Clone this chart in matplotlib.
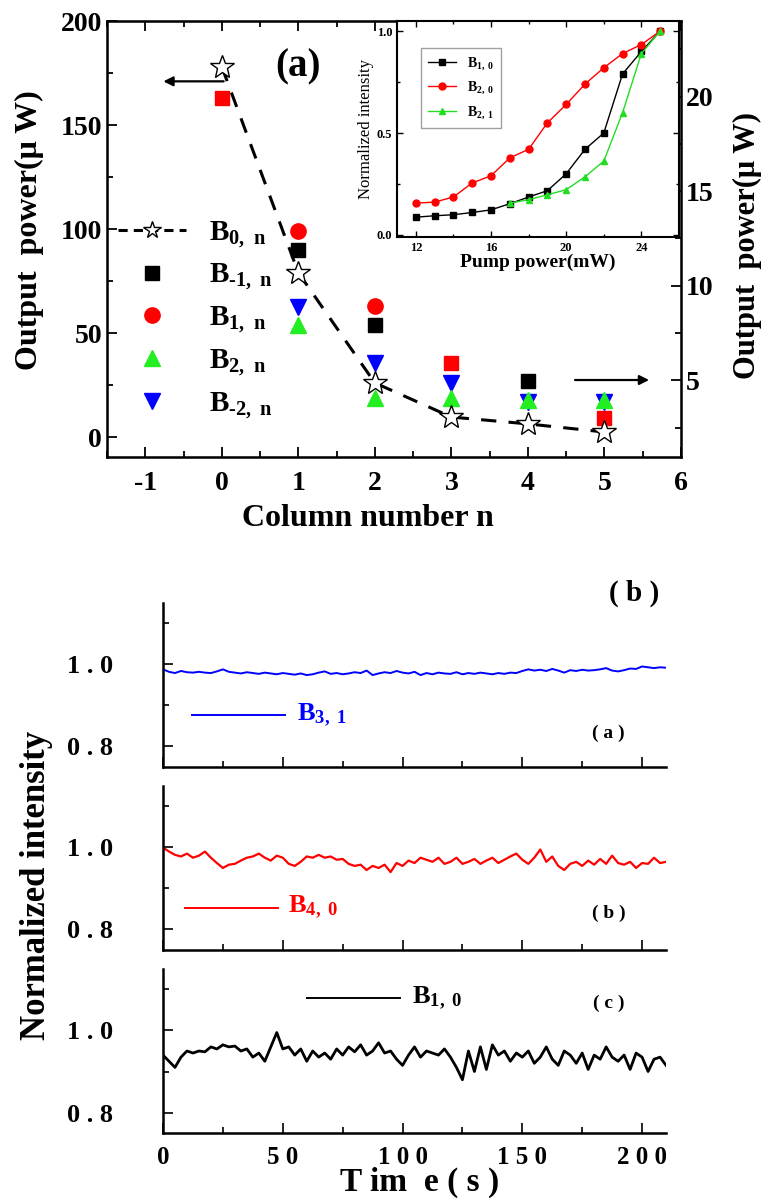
import numpy as np
import matplotlib
matplotlib.use("Agg")
import matplotlib.pyplot as plt
from matplotlib.lines import Line2D
from matplotlib.ticker import MultipleLocator, FixedLocator

plt.rcParams['font.family'] = ['Liberation Serif', 'DejaVu Serif']
plt.rcParams['font.weight'] = 'bold'
plt.rcParams['axes.unicode_minus'] = False
plt.rcParams['mathtext.fontset'] = 'custom'
plt.rcParams['mathtext.rm'] = 'Liberation Serif:bold'
plt.rcParams['mathtext.it'] = 'Liberation Serif:bold'
plt.rcParams['mathtext.bf'] = 'Liberation Serif:bold'

# --- top panel: output power vs column number ---
n_b0 = [0, 1, 2, 3, 4, 5]
p_b0 = [178, 79, 26, 9.6, 6.3, 2.4]
n_bm1 = [1, 2, 4]
p_bm1 = [90, 54, 27]
n_b1 = [1, 2]
p_b1 = [99, 63]
n_b2 = [1, 2, 3, 4, 5]
p_b2 = [54, 18.7, 18.7, 17.8, 17.8]
n_bm2 = [1, 2, 3, 4, 5]
p_bm2 = [62.5, 35.6, 26, 17, 17]
n_red_sq = [0, 3, 5]
p_red_sq = [163, 35.6, 9]

# --- inset: normalized intensity vs pump power ---
pump = [12, 13, 14, 15, 16, 17, 18, 19, 20, 21, 22, 23, 24, 25]
i_b10 = [0.087, 0.094, 0.099, 0.11, 0.123, 0.153, 0.186, 0.217, 0.30, 0.42, 0.50, 0.79, 0.90, 1.0]
i_b20 = [0.156, 0.161, 0.186, 0.255, 0.29, 0.378, 0.42, 0.55, 0.64, 0.74, 0.82, 0.89, 0.934, 1.0]
pump_b21 = [17, 18, 19, 20, 21, 22, 23, 24, 25]
i_b21 = [0.156, 0.173, 0.197, 0.222, 0.285, 0.362, 0.60, 0.89, 1.0]

# --- bottom panels: intensity vs time ---
t = np.arange(0, 210.1, 2.5)
b31 = [0.988, 0.982, 0.979, 0.984, 0.981, 0.980, 0.982, 0.980, 0.979,
       0.983, 0.988, 0.982, 0.980, 0.978, 0.981, 0.979, 0.977,
       0.980, 0.978, 0.976, 0.979, 0.977, 0.975, 0.978, 0.974,
       0.976, 0.980, 0.983, 0.977, 0.979, 0.976, 0.978, 0.981,
       0.979, 0.985, 0.974, 0.978, 0.981, 0.979, 0.984, 0.980,
       0.978, 0.982, 0.974, 0.979, 0.976, 0.980, 0.978, 0.977,
       0.981, 0.976, 0.979, 0.977, 0.980, 0.978, 0.976, 0.979,
       0.977, 0.980, 0.979, 0.984, 0.988, 0.985, 0.987, 0.984,
       0.989, 0.985, 0.980, 0.986, 0.984, 0.987, 0.985, 0.986,
       0.988, 0.991, 0.985, 0.983, 0.986, 0.990, 0.989, 0.995,
       0.993, 0.991, 0.993, 0.992]
b40 = [1.000, 0.990, 0.982, 0.978, 0.985, 0.975, 0.980, 0.990, 0.975,
       0.962, 0.950, 0.958, 0.960, 0.968, 0.975, 0.978, 0.985,
       0.975, 0.968, 0.980, 0.975, 0.960, 0.955, 0.965, 0.978,
       0.975, 0.982, 0.975, 0.978, 0.970, 0.972, 0.960, 0.955,
       0.958, 0.945, 0.955, 0.950, 0.958, 0.940, 0.962, 0.955,
       0.968, 0.962, 0.975, 0.970, 0.965, 0.975, 0.960, 0.965,
       0.975, 0.960, 0.965, 0.972, 0.960, 0.968, 0.975, 0.962,
       0.970, 0.978, 0.985, 0.970, 0.960, 0.975, 0.995, 0.965,
       0.978, 0.955, 0.945, 0.960, 0.965, 0.955, 0.968, 0.958,
       0.972, 0.960, 0.980, 0.962, 0.958, 0.965, 0.950, 0.962,
       0.960, 0.975, 0.962, 0.965]
b10_t = [0.940, 0.925, 0.910, 0.935, 0.950, 0.945, 0.950, 0.948, 0.960,
         0.955, 0.965, 0.960, 0.962, 0.950, 0.955, 0.935, 0.945,
         0.925, 0.960, 0.995, 0.955, 0.960, 0.940, 0.955, 0.925,
         0.950, 0.935, 0.945, 0.930, 0.955, 0.940, 0.960, 0.948,
         0.965, 0.940, 0.950, 0.970, 0.945, 0.950, 0.930, 0.915,
         0.940, 0.960, 0.935, 0.950, 0.945, 0.940, 0.955, 0.935,
         0.910, 0.880, 0.950, 0.900, 0.960, 0.905, 0.965, 0.940,
         0.950, 0.925, 0.945, 0.935, 0.950, 0.920, 0.935, 0.960,
         0.930, 0.915, 0.950, 0.940, 0.920, 0.945, 0.905, 0.940,
         0.930, 0.960, 0.935, 0.925, 0.940, 0.905, 0.945, 0.935,
         0.900, 0.930, 0.935, 0.915]

fig = plt.figure(figsize=(7.66, 12.01), dpi=100)

# ================= top panel =================
ax = fig.add_axes([0.1397, 0.6195, 0.7493, 0.3630])
ax.plot(n_b0, p_b0, color='black', lw=2.2, dashes=(5, 4), zorder=2)
ax.plot(n_red_sq, p_red_sq, 's', color='red', ms=10, zorder=3)
ax.plot(n_bm1, p_bm1, 's', color='black', ms=10, zorder=3)
ax.plot(n_b1, p_b1, 'o', color='red', ms=11, zorder=3)
ax.plot(n_bm2, p_bm2, 'v', color='blue', ms=12, zorder=3)
ax.plot(n_b2, p_b2, '^', color='#22ee22', ms=12, zorder=3)
ax.plot(n_b0, p_b0, '*', ms=18, mfc='white', mec='black', mew=1.0, ls='none', zorder=4)

ax.set_xlim(-1.5, 6)
ax.set_ylim(-9.6, 200)
ax.xaxis.set_major_locator(MultipleLocator(1))
ax.xaxis.set_minor_locator(MultipleLocator(0.5))
ax.yaxis.set_major_locator(MultipleLocator(50))
ax.yaxis.set_minor_locator(MultipleLocator(25))
ax.tick_params(which='both', direction='in', top=True, right=False, width=1.3)
ax.tick_params(which='major', length=7, labelsize=20)
ax.tick_params(which='minor', length=4)
ax.tick_params(axis='x', pad=10)
for s in ax.spines.values():
    s.set_linewidth(1.8)
ax.set_xlabel('Column number n', fontsize=23, fontweight='bold')
ax.xaxis.set_label_coords(0.455, -0.108)
ax.set_ylabel('Output  power(\u03bc W)', fontsize=23, fontweight='bold')
ax.yaxis.set_label_coords(-0.11, 0.52)

ax2 = ax.twinx()
ax2.set_ylim(2 - 9.6 * 0.11, 24)
ax2.yaxis.set_major_locator(MultipleLocator(5))
ax2.yaxis.set_minor_locator(MultipleLocator(2.5))
ax2.tick_params(which='both', direction='in', width=1.3)
ax2.tick_params(which='major', length=7, labelsize=20)
ax2.tick_params(which='minor', length=4)
ax2.set_ylabel('Output  power(\u03bc W)', fontsize=22, fontweight='bold')
ax2.yaxis.set_label_coords(1.09, 0.486)

ax.annotate('', xy=(-0.8, 171), xytext=(0.06, 171),
            arrowprops=dict(arrowstyle='-|>', lw=1.6, color='black', mutation_scale=14))
ax.annotate('', xy=(5.62, 27.4), xytext=(4.58, 27.4),
            arrowprops=dict(arrowstyle='-|>', lw=1.6, color='black', mutation_scale=14))
ax.text(1.0, 178, '(a)', fontsize=28, fontweight='bold', ha='center', va='center')

handles = [
    Line2D([], [], color='black', lw=2.2, dashes=(3, 2), marker='*', ms=13, mfc='white', mec='black'),
    Line2D([], [], ls='none', marker='s', color='black', ms=10),
    Line2D([], [], ls='none', marker='o', color='red', ms=11),
    Line2D([], [], ls='none', marker='^', color='#22ee22', ms=12),
    Line2D([], [], ls='none', marker='v', color='blue', ms=12),
]
labels = [r'B$_{0,\ n}$', 'B$_{\u20101,\\ n}$', r'B$_{1,\ n}$', r'B$_{2,\ n}$', 'B$_{\u20102,\\ n}$']
leg = ax.legend(handles, labels, loc='upper left', bbox_to_anchor=(0.02, 0.546),
                frameon=False, fontsize=21, handlelength=2.3, handletextpad=0.8,
                labelspacing=0.42, borderpad=0, borderaxespad=0)

# ================= inset =================
ins = fig.add_axes([0.5183, 0.8027, 0.3681, 0.1799])
ins.plot(pump, i_b10, '-s', color='black', ms=5, lw=1.0)
ins.plot(pump, i_b20, '-o', color='red', ms=5, lw=1.0)
ins.plot(pump_b21, i_b21, '-^', color='#22dd22', ms=5, lw=1.0)
ins.set_xlim(11, 26)
ins.set_ylim(-0.01, 1.05)
ins.xaxis.set_major_locator(FixedLocator([12, 16, 20, 24]))
ins.xaxis.set_minor_locator(FixedLocator([14, 18, 22]))
ins.yaxis.set_major_locator(FixedLocator([0.0, 0.5, 1.0]))
ins.yaxis.set_minor_locator(FixedLocator([0.25, 0.75]))
ins.tick_params(which='both', direction='in', top=True, right=True, width=1.0)
ins.tick_params(which='major', length=4, labelsize=9)
ins.tick_params(which='minor', length=2.5)
ins.set_xticklabels(['12', '16', '20', '24'])
ins.set_yticklabels(['0.0', '0.5', '1.0'])
for s in ins.spines.values():
    s.set_linewidth(1.5)
ins.set_xlabel('Pump power(mW)', fontsize=14, fontweight='bold', labelpad=0)
ins.set_ylabel('Normalized intensity', fontsize=12, fontweight='normal', labelpad=2)
ins.legend([r'B$_{1,\ 0}$', r'B$_{2,\ 0}$', r'B$_{2,\ 1}$'], loc='upper left',
           bbox_to_anchor=(0.06, 0.905), fontsize=10, fancybox=False, edgecolor='#888888',
           handlelength=2.0, labelspacing=0.6, borderpad=0.5)

# ================= bottom panels =================
series = [(b31, 'blue', r'B$_{3,\ 1}$', (12, 51, 56, 0.876), '( a )', 0.833, 1.4),
          (b40, 'red', r'B$_{4,\ 0}$', (9, 48, 52, 0.853), '( b )', 0.84, 1.6),
          (b10_t, 'black', r'B$_{1,\ 0}$', (60, 99, 104, 1.078), '( c )', 1.065, 2.0)]
bottoms = [0.3614, 0.2090, 0.0566]
for (vals, col, lab, (x0, x1, xt, yl), tag, ytag, lw), b in zip(series, bottoms):
    a = fig.add_axes([0.2128, b, 0.6567, 0.1366])
    a.plot(t, vals, color=col, lw=lw)
    a.plot([x0, x1], [yl, yl], color=col, lw=1.4)
    a.text(xt, yl, lab, color=col, fontsize=19, va='center', ha='left')
    a.text(186, ytag, tag, fontsize=14, ha='center', va='center')
    a.set_xlim(0, 210)
    a.set_ylim(0.75, 1.15)
    a.spines['top'].set_visible(False)
    a.spines['right'].set_visible(False)
    a.spines['left'].set_linewidth(1.8)
    a.spines['bottom'].set_linewidth(1.8)
    a.xaxis.set_major_locator(FixedLocator([0, 50, 100, 150, 200]))
    a.xaxis.set_minor_locator(FixedLocator([25, 75, 125, 175]))
    a.yaxis.set_major_locator(FixedLocator([0.8, 1.0]))
    a.yaxis.set_minor_locator(FixedLocator([0.9, 1.1]))
    a.tick_params(which='both', direction='in', width=1.2)
    a.tick_params(which='major', length=7)
    a.tick_params(which='minor', length=4)
    a.set_yticklabels(['0 . 8', '1 . 0'], fontsize=19)
    a.tick_params(axis='y', pad=36)
    a.tick_params(axis='x', pad=9)
    if b == bottoms[-1]:
        a.set_xticklabels(['0', '5 0', '1 0 0', '1 5 0', '2 0 0'], fontsize=18)
    else:
        a.set_xticklabels([])

fig.text(0.828, 1 - 593 / 1201, '( b )', fontsize=21, ha='center', va='center')
fig.text(0.548, 1 - 1182 / 1201, 'T im  e ( s )', fontsize=24, ha='center', va='center')
fig.text(0.048, 1 - 885 / 1201, 'Normalized intensity', fontsize=25, rotation=90,
         ha='center', va='center')

fig.savefig('out.png', dpi=100)
